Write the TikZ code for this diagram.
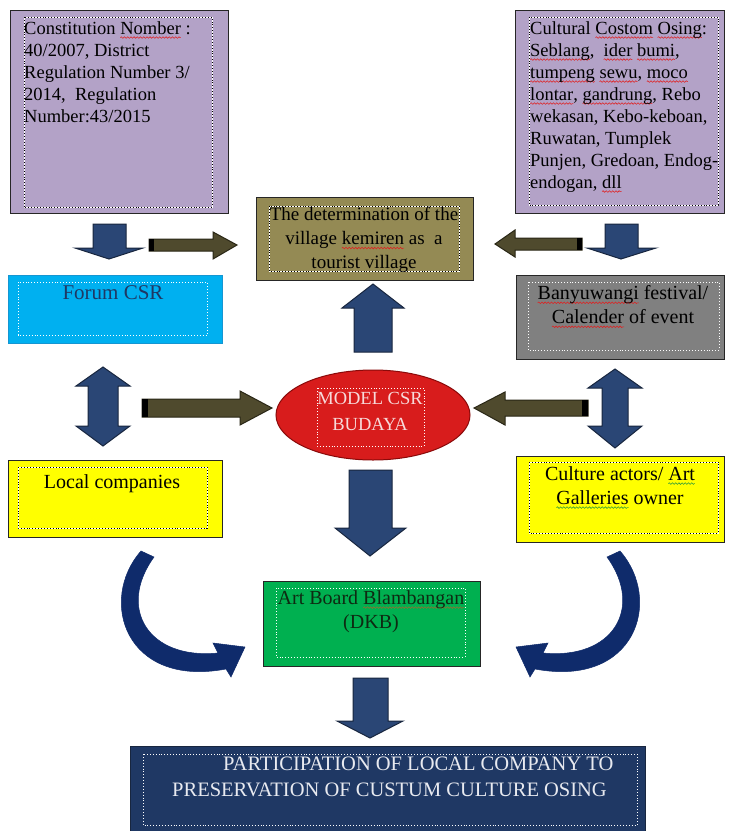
\documentclass[tikz,border=0pt]{standalone}
\usepackage{fontspec}
\setmainfont{Liberation Serif}
\usetikzlibrary{shapes.geometric,decorations.pathmorphing}

\definecolor{lilac}{HTML}{B3A2C7}
\definecolor{khaki}{HTML}{948A54}
\definecolor{skyfill}{HTML}{00B0F0}
\definecolor{skyedge}{HTML}{1596D2}
\definecolor{greyfill}{HTML}{808080}
\definecolor{redfill}{HTML}{D81C1C}
\definecolor{rededge}{HTML}{8A0A0A}
\definecolor{yellowfill}{HTML}{FFFF00}
\definecolor{greenfill}{HTML}{00B050}
\definecolor{navyfill}{HTML}{1F3864}
\definecolor{panelline}{HTML}{262626}
\definecolor{arrowblue}{HTML}{2A4675}
\definecolor{arrowedge}{HTML}{18263F}
\definecolor{olivearrow}{HTML}{4F4A2D}
\definecolor{oliveedge}{HTML}{2A2716}
\definecolor{curveblue}{HTML}{0F2B6B}
\definecolor{spellred}{HTML}{E02020}
\definecolor{spellgreen}{HTML}{2E9A3A}
\definecolor{spellbrown}{HTML}{9A6A30}
\definecolor{forumtext}{HTML}{1F3864}
\definecolor{pinktext}{HTML}{F7DADA}
\definecolor{dkbtext}{HTML}{0E2A12}
\definecolor{whitetext}{HTML}{E8EAF0}

% wavy proof-reading underlines
\newsavebox\wavebox
\newcommand\wavy[2]{\sbox\wavebox{#2}\rlap{\tikz[overlay,baseline=0pt]\draw[#1, line width=0.55pt, decorate, decoration={snake, amplitude=0.8pt, segment length=3.2pt}] (0pt,-3.5pt) -- (\the\wd\wavebox,-3.5pt);}\usebox\wavebox}
\newcommand\redwave[1]{\wavy{spellred}{#1}}
\newcommand\greenwave[1]{\wavy{spellgreen}{#1}}
\newcommand\brownwave[1]{\wavy{spellbrown}{#1}}

\begin{document}
\begin{tikzpicture}[x=1pt,y=-1pt,
  panel/.style={draw=panelline, line width=1.3pt, inner sep=0pt, anchor=north west},
  lightframe/.style={draw=white, line width=0.9pt, postaction={draw=black, line width=0.9pt, dotted}},
  darkframe/.style={draw=white, line width=0.9pt, dotted},
  txt/.style={inner sep=0pt, font=\fontsize{18.5}{22}\selectfont, text=black},
  bigtxt/.style={inner sep=0pt, font=\fontsize{20}{24}\selectfont, text=black},
  bluearrow/.style={fill=arrowblue, draw=arrowedge, line width=1pt, line join=miter},
  olivearrowstyle/.style={fill=olivearrow, draw=oliveedge, line width=1pt, line join=miter},
  curvearrow/.style={fill=curveblue, draw=curveblue, line width=0.5pt}]

\useasboundingbox (0,0) rectangle (730,831);
\fill[white] (0,0) rectangle (730,831);

% ---------- panels ----------
\node[panel, fill=lilac, minimum width=218, minimum height=203] (law) at (10,10) {};
\draw[lightframe] (24,17) rectangle (212,207);
\node[txt, anchor=north west, align=left] (lawtext) at (24,21)
  {Constitution \redwave{Nomber} :\\40/2007, District\\Regulation Number 3/\\2014,\ \ Regulation\\Number:43/2015};

\node[panel, fill=lilac, minimum width=209, minimum height=203] (custom) at (515,10) {};
\draw[lightframe] (529,17) rectangle (718,205);
\node[txt, anchor=north west, align=left] (customtext) at (530,21)
  {Cultural \redwave{Costom} \redwave{Osing}:\\\redwave{Seblang},\ \ \redwave{ider} \redwave{bumi},\\\redwave{tumpeng} \redwave{sewu}, \redwave{moco}\\\redwave{lontar}, \redwave{gandrung}, Rebo\\wekasan, Kebo-keboan,\\Ruwatan, Tumplek\\Punjen, Gredoan, Endog-\\endogan, \redwave{dll}};

\node[panel, fill=khaki, minimum width=217, minimum height=83] (village) at (256,197) {};
\draw[lightframe] (269,206) rectangle (459,271);
\node[txt, font=\fontsize{19}{24}\selectfont, anchor=north, align=center] (villagetext) at (364,207)
  {The determination of the\\village \redwave{kemiren} as\ \ a\\tourist village};

\node[panel, draw=skyedge, line width=0.8pt, fill=skyfill, minimum width=214, minimum height=68] (forum) at (8,275) {};
\draw[darkframe] (18,282) rectangle (207,335);
\node[bigtxt, font=\fontsize{21}{24}\selectfont, text=forumtext, anchor=north] (forumtext) at (113,285) {Forum CSR};

\node[panel, fill=greyfill, minimum width=208, minimum height=84] (festival) at (516,275) {};
\draw[darkframe] (528,282) rectangle (719,350);
\node[bigtxt, anchor=north, align=center] (festivaltext) at (623,285)
  {\redwave{Banyuwangi} festival/\\\redwave{Calender} of event};

\node[ellipse, fill=redfill, draw=rededge, line width=1pt, minimum width=194, minimum height=90] (model) at (373,415) {};
\draw[darkframe] (317,388) rectangle (424,446);
\node[txt, font=\fontsize{18.5}{26}\selectfont, text=pinktext, anchor=north, align=center] (modeltext) at (370,392)
  {MODEL CSR\\BUDAYA};

\node[panel, fill=yellowfill, minimum width=214, minimum height=77] (local) at (8,460) {};
\draw[lightframe] (18,467) rectangle (207,528);
\node[bigtxt, anchor=north] (localtext) at (112,474) {Local companies};

\node[panel, fill=yellowfill, minimum width=208, minimum height=86] (actors) at (516,456) {};
\draw[lightframe] (529,462) rectangle (718,533);
\node[bigtxt, anchor=north, align=center] (actorstext) at (620,466)
  {Culture actors/ \greenwave{Art}\\\greenwave{Galleries} owner};

\node[panel, draw=panelline, fill=greenfill, minimum width=217, minimum height=85] (board) at (263,581) {};
\draw[darkframe] (276,588) rectangle (465,657);
\node[bigtxt, text=dkbtext, anchor=north, align=center] (boardtext) at (371,590)
  {Art Board \brownwave{Blambangan}\\(DKB)};

\node[panel, draw=arrowedge, fill=navyfill, minimum width=515, minimum height=95] (participation) at (130,746) {};
\draw[darkframe] (143,754) rectangle (637,825);
\node[bigtxt, font=\fontsize{20.5}{26}\selectfont, text=whitetext, anchor=north west, align=left] (participationtext) at (172,757)
  {\hspace*{51pt}PARTICIPATION OF LOCAL COMPANY TO\\PRESERVATION OF CUSTUM CULTURE OSING};

% ---------- block arrows ----------
% down arrows under the two top panels
\draw[bluearrow] (93,224) -- (126,224) -- (126,248) -- (143,248) -- (109,259) -- (75,248) -- (93,248) -- cycle;
\draw[bluearrow] (605,224) -- (638,224) -- (638,248) -- (656,248) -- (621,259) -- (587,248) -- (605,248) -- cycle;

% olive arrows towards the village panel
\draw[olivearrowstyle] (149,239) -- (213,239) -- (213,232) -- (237,245) -- (213,259) -- (213,251) -- (149,251) -- cycle;
\fill[black] (149,239) rectangle (154,251);
\draw[olivearrowstyle] (582,238) -- (515,238) -- (515,230) -- (495,244) -- (515,257) -- (515,250) -- (582,250) -- cycle;
\fill[black] (577,238) rectangle (582,250);

% up arrow from the model to the village panel
\draw[bluearrow] (354,352) -- (392,352) -- (392,308) -- (404,308) -- (373,284) -- (342,308) -- (354,308) -- cycle;

% double arrows on both sides
\draw[bluearrow] (103,367) -- (130,386) -- (118,386) -- (118,426) -- (130,426) -- (103,446) -- (76,426) -- (88,426) -- (88,386) -- (76,386) -- cycle;
\draw[bluearrow] (615,369) -- (642,388) -- (628,388) -- (628,426) -- (642,426) -- (615,448) -- (588,426) -- (602,426) -- (602,388) -- (588,388) -- cycle;

% olive arrows into the model
\draw[olivearrowstyle] (142,399) -- (240,399) -- (240,391) -- (272,408) -- (240,425) -- (240,417) -- (142,417) -- cycle;
\fill[black] (142,399) rectangle (148,417);
\draw[olivearrowstyle] (588,400) -- (505,400) -- (505,392) -- (474,408) -- (505,425) -- (505,416) -- (588,416) -- cycle;
\fill[black] (582,400) rectangle (588,416);

% down arrow from the model to the art board
\draw[bluearrow] (349,470) -- (392,470) -- (392,528) -- (406,528) -- (370,556) -- (335,528) -- (349,528) -- cycle;

% down arrow from the art board to the last panel
\draw[bluearrow] (353,678) -- (388,678) -- (388,721) -- (403,721) -- (370,738) -- (337,721) -- (353,721) -- cycle;

% ---------- curved arrows ----------
\draw[curvearrow] (141,551) .. controls (98,600) and (125,688) .. (226,669)
  -- (231,677) -- (245,647) -- (213,643) -- (218,653)
  .. controls (148,660) and (117,608) .. (154,557) -- cycle;
\draw[curvearrow] (620,551) .. controls (663,600) and (636,688) .. (535,669)
  -- (530,677) -- (516,647) -- (548,643) -- (543,653)
  .. controls (613,660) and (644,608) .. (607,557) -- cycle;

\end{tikzpicture}
\end{document}
